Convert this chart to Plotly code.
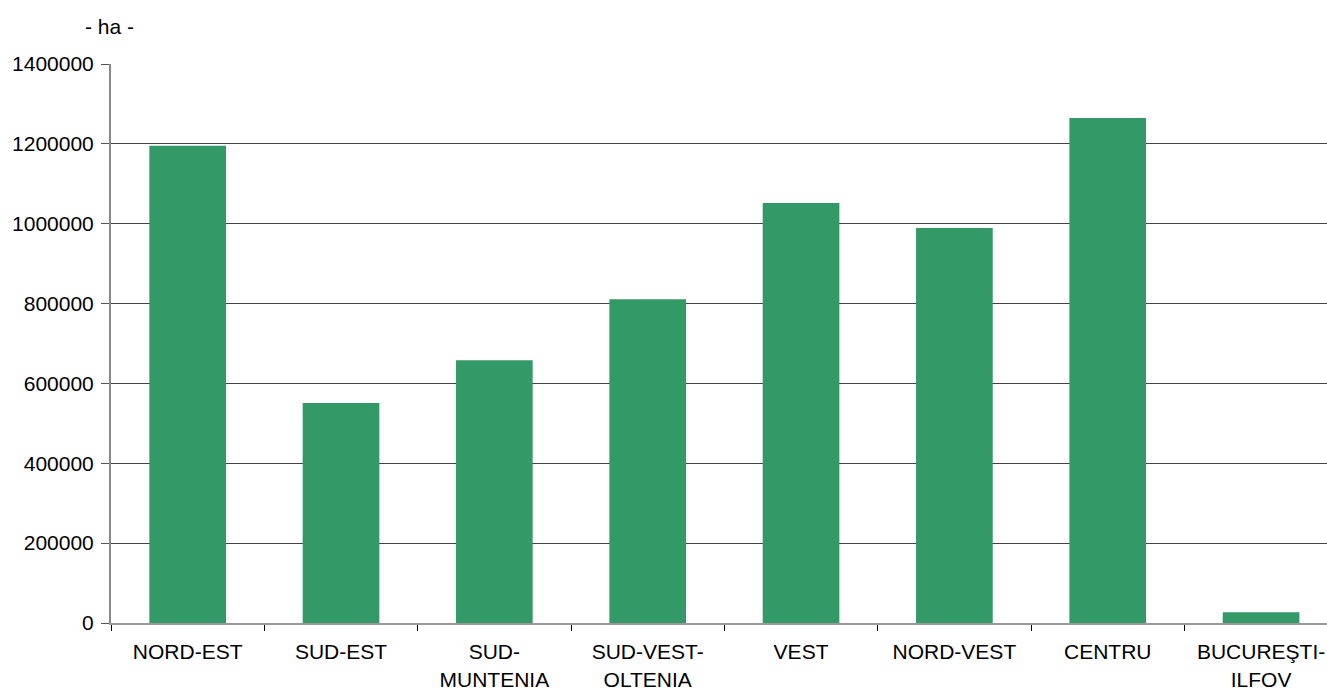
import plotly.graph_objects as go

regions = ["NORD-EST", "SUD-EST", "SUD-<br>MUNTENIA", "SUD-VEST-<br>OLTENIA", "VEST",
           "NORD-VEST", "CENTRU", "BUCUREŞTI-<br>ILFOV"]
values = [1195000, 551000, 658000, 811000, 1052000, 989000, 1265000, 27000]
y_ticks = [0, 200000, 400000, 600000, 800000, 1000000, 1200000, 1400000]

fig = go.Figure(go.Bar(
    x=regions, y=values, width=0.5,
    marker=dict(color="#339966", line=dict(width=0)),
))

fig.update_layout(
    width=1327, height=691,
    margin=dict(l=111, r=0, t=64, b=68),
    plot_bgcolor="white", paper_bgcolor="white",
    font=dict(family="Liberation Sans, Arial, sans-serif", size=21, color="#000000"),
    showlegend=False,
)
fig.update_xaxes(
    type="category", automargin=False,
    range=[-0.5, 7.43],
    tickson="boundaries", ticks="outside", ticklen=6, tickcolor="#000000",
    ticklabelstandoff=9,
    showline=True, linecolor="#999999", linewidth=2,
    showgrid=False, zeroline=False,
)
fig.update_yaxes(
    range=[0, 1400000], automargin=False,
    tickmode="array", tickvals=y_ticks, ticktext=[str(v) for v in y_ticks],
    ticks="outside", ticklen=8, tickcolor="#555555",
    ticklabelstandoff=3,
    showline=True, linecolor="#888888", linewidth=2,
    showgrid=True, gridcolor="#444444", gridwidth=1,
    zeroline=False,
)
fig.add_annotation(
    text="- ha -", xref="paper", yref="paper", x=-0.0015, y=1.0, yshift=38,
    showarrow=False, xanchor="center", yanchor="middle",
    font=dict(size=21),
)
fig.write_html("out.html", config={"displayModeBar": False},
               post_script="document.body.style.margin='0px';document.body.style.overflow='hidden';")
